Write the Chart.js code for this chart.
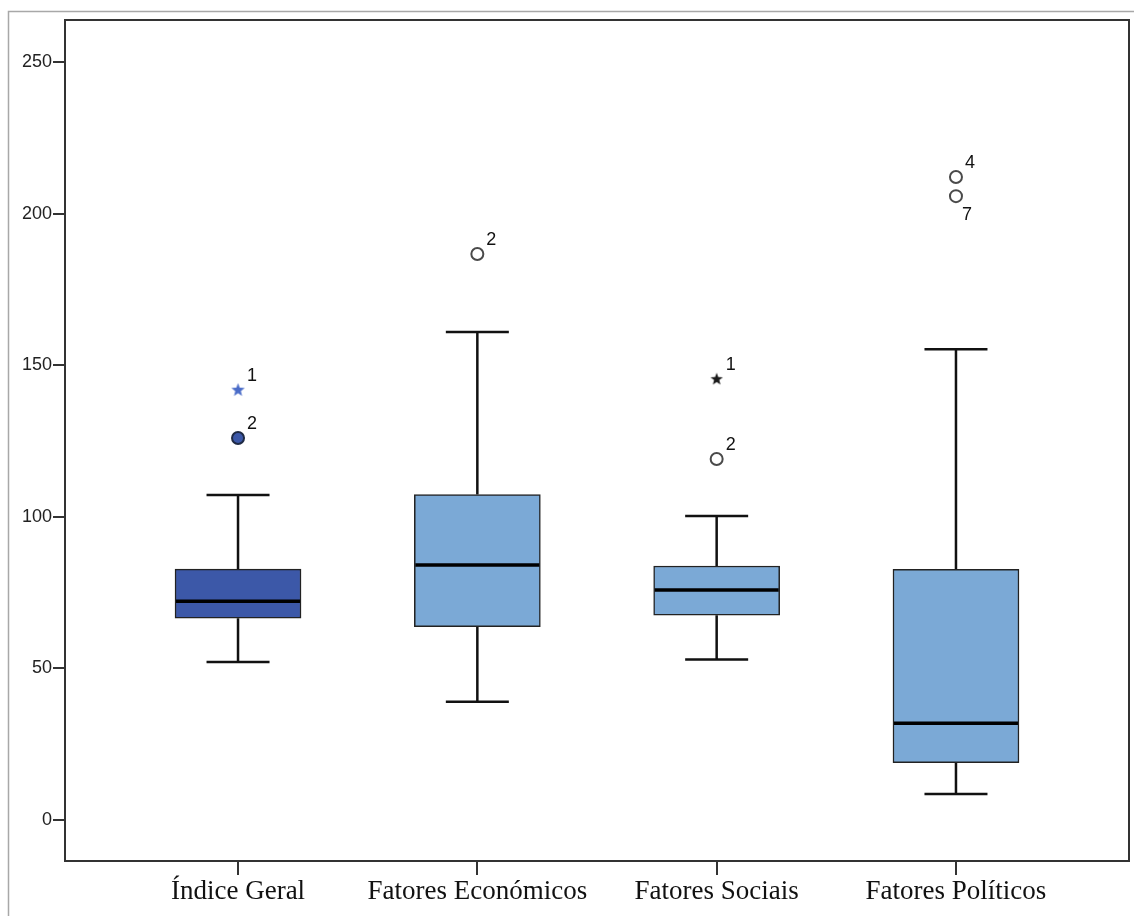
<!DOCTYPE html>
<html lang="pt">
<head>
<meta charset="utf-8">
<title>Boxplot dos índices</title>
<script src="https://cdn.jsdelivr.net/npm/chart.js@4/dist/chart.umd.min.js"></script>
<style>
  html, body { margin: 0; padding: 0; background: #ffffff; }
  #wrap { position: relative; width: 1134px; height: 916px; }
  canvas { display: block; }
</style>
</head>
<body>
<div id="wrap"><canvas id="box" width="1134" height="916"></canvas></div>
<script>
// Categories and five-number summaries (whisker ends, quartiles, median)
const categories  = ['Índice Geral', 'Fatores Económicos', 'Fatores Sociais', 'Fatores Políticos'];
const whiskerLow  = [52.1, 39.0, 53.0, 8.6];
const q1          = [66.6, 63.8, 67.6, 18.9];
const median      = [72.2, 84.1, 75.9, 31.9];
const q3          = [82.8, 107.4, 83.8, 82.7];
const whiskerHigh = [107.2, 161.0, 100.3, 155.3];

// Outlying cases: category index, value, case number, kind
const outlierCat   = [0, 0, 1, 2, 2, 3, 3];
const outlierValue = [141.8, 126.0, 186.7, 145.4, 119.1, 212.1, 205.8];
const outlierCase  = ['1', '2', '2', '1', '2', '4', '7'];
const outlierKind  = ['extreme', 'mild', 'mild', 'extreme', 'mild', 'mild', 'mild'];

// Axis ticks
const yTicks = [0, 50, 100, 150, 200, 250];

const boxColors = ['#3C58A8', '#7BA9D6', '#7BA9D6', '#7BA9D6'];
const BOX_WIDTH = 126;

// Small filled five-point star used for extreme values
function makeStar(color, size) {
  const c = document.createElement('canvas');
  c.width = size; c.height = size;
  const g = c.getContext('2d');
  const cx = size / 2, cy = size / 2, R = size / 2 - 0.5, r = R * 0.42;
  g.fillStyle = color;
  g.beginPath();
  for (let i = 0; i < 10; i++) {
    const a = -Math.PI / 2 + i * Math.PI / 5;
    const rad = i % 2 ? r : R;
    const px = cx + rad * Math.cos(a), py = cy + rad * Math.sin(a);
    if (i === 0) g.moveTo(px, py); else g.lineTo(px, py);
  }
  g.closePath();
  g.fill();
  return c;
}
const starBlue = makeStar('#4A6CC8', 15);
const starBlack = makeStar('#1a1a1a', 14);

// Outer frame and plot border
const framePlugin = {
  id: 'frame',
  beforeDraw(chart) {
    const c = chart.ctx;
    c.save();
    c.strokeStyle = '#a8a8a8';
    c.lineWidth = 1.5;
    c.strokeRect(8.5, 11.5, 2000, 2000);
    c.restore();
  },
  afterDraw(chart) {
    const a = chart.chartArea, c = chart.ctx;
    c.save();
    c.strokeStyle = '#333333';
    c.lineWidth = 2;
    c.strokeRect(a.left, a.top, a.right - a.left, a.bottom - a.top);
    c.restore();
  }
};

// Whiskers behind the boxes, medians on top of them
const boxPlugin = {
  id: 'boxParts',
  beforeDatasetsDraw(chart) {
    const xs = chart.scales.x, ys = chart.scales.y, c = chart.ctx;
    c.save();
    c.strokeStyle = '#111111';
    c.lineWidth = 2.5;
    c.lineCap = 'butt';
    categories.forEach((_, i) => {
      const x = xs.getPixelForValue(i);
      const cap = BOX_WIDTH / 4;
      const yLo = ys.getPixelForValue(whiskerLow[i]);
      const yQ1 = ys.getPixelForValue(q1[i]);
      const yQ3 = ys.getPixelForValue(q3[i]);
      const yHi = ys.getPixelForValue(whiskerHigh[i]);
      c.beginPath();
      c.moveTo(x, yHi); c.lineTo(x, yQ3);
      c.moveTo(x, yQ1); c.lineTo(x, yLo);
      c.moveTo(x - cap, yHi); c.lineTo(x + cap, yHi);
      c.moveTo(x - cap, yLo); c.lineTo(x + cap, yLo);
      c.stroke();
    });
    c.restore();
  },
  afterDatasetsDraw(chart) {
    const ys = chart.scales.y, c = chart.ctx;
    const bars = chart.getDatasetMeta(0).data;
    c.save();
    c.strokeStyle = '#000000';
    c.lineWidth = 3.5;
    bars.forEach((bar, i) => {
      const y = ys.getPixelForValue(median[i]);
      c.beginPath();
      c.moveTo(bar.x - bar.width / 2 + 1, y);
      c.lineTo(bar.x + bar.width / 2 - 1, y);
      c.stroke();
    });
    // case numbers beside outlying points
    const pts = chart.getDatasetMeta(1).data;
    c.fillStyle = '#111111';
    c.font = '18px "Liberation Sans", Arial, sans-serif';
    c.textAlign = 'left';
    c.textBaseline = 'middle';
    pts.forEach((p, i) => {
      // if another outlier of the same box sits just above, put the number underneath
      const crowded = pts.some((q, j) => j !== i && outlierCat[j] === outlierCat[i] &&
        q.y < p.y && p.y - q.y < 30);
      const dy = crowded ? 19 : -14;
      const dx = crowded ? 6 : 9;
      c.fillText(outlierCase[i], p.x + dx, p.y + dy);
    });
    c.restore();
  }
};

new Chart(document.getElementById('box'), {
  type: 'bar',
  data: {
    datasets: [
      {
        type: 'bar',
        data: categories.map((_, i) => ({ x: i, y: [q1[i], q3[i]] })),
        backgroundColor: boxColors,
        borderColor: '#222222',
        borderWidth: 1.5,
        borderSkipped: false,
        barThickness: BOX_WIDTH,
        order: 2
      },
      {
        type: 'scatter',
        data: outlierValue.map((v, i) => ({ x: outlierCat[i], y: v })),
        showLine: false,
        pointStyle: ctx => outlierKind[ctx.dataIndex] === 'extreme'
          ? (outlierCat[ctx.dataIndex] === 0 ? starBlue : starBlack)
          : 'circle',
        pointRadius: 6,
        backgroundColor: ctx => outlierCat[ctx.dataIndex] === 0 ? '#3C58A8' : '#ffffff',
        borderColor: ctx => outlierCat[ctx.dataIndex] === 0 ? '#1f2a44' : '#4a4a4a',
        borderWidth: 2,
        order: 1
      }
    ]
  },
  options: {
    responsive: false,
    animation: false,
    events: [],
    layout: { autoPadding: false, padding: { top: 20, right: 5, left: 0, bottom: 0 } },
    plugins: { legend: { display: false }, tooltip: { enabled: false }, title: { display: false } },
    scales: {
      x: {
        type: 'linear',
        min: -0.723,
        max: 3.723,
        offset: false,
        afterBuildTicks: s => { s.ticks = categories.map((_, i) => ({ value: i })); },
        afterFit: s => { s.height = 55; s.paddingLeft = 0; s.paddingRight = 0; },
        grid: { offset: false, drawOnChartArea: false, drawTicks: true, tickLength: 14, color: '#333333', lineWidth: 2 },
        border: { display: false },
        ticks: {
          autoSkip: false,
          maxRotation: 0,
          padding: 1,
          color: '#111111',
          font: { family: '"Liberation Serif", "Times New Roman", serif', size: 27 },
          callback: v => categories[v]
        }
      },
      y: {
        type: 'linear',
        min: -13.5,
        max: 263.9,
        afterBuildTicks: s => { s.ticks = yTicks.map(v => ({ value: v })); },
        afterFit: s => { s.width = 65; s.paddingTop = 0; s.paddingBottom = 0; },
        grid: { drawOnChartArea: false, drawTicks: true, tickLength: 12, color: '#333333', lineWidth: 2 },
        border: { display: false },
        ticks: {
          padding: 1,
          color: '#222222',
          font: { family: '"Liberation Sans", Arial, sans-serif', size: 18 }
        }
      }
    }
  },
  plugins: [framePlugin, boxPlugin]
});
</script>
</body>
</html>
